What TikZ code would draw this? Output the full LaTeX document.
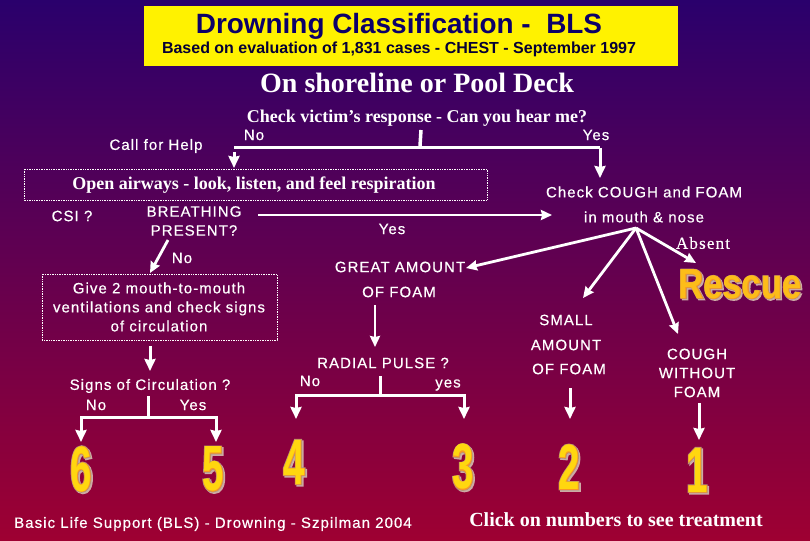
\documentclass[tikz,border=0pt]{standalone}
\usepackage{fontspec}
\setmainfont{Liberation Serif}
\setsansfont{Liberation Sans}
\newfontfamily\numfont[FakeStretch=0.6]{Liberation Sans Bold}
\newfontfamily\numfill[FakeStretch=0.6,FakeBold=1.5]{Liberation Sans Bold}
\newfontfamily\numedge[FakeStretch=0.6,FakeBold=3.5]{Liberation Sans Bold}
\newfontfamily\rescuefont[FakeStretch=0.82]{Liberation Sans Bold}
\newfontfamily\rescuefill[FakeStretch=0.82,FakeBold=1.5]{Liberation Sans Bold}
\newfontfamily\rescueedge[FakeStretch=0.82,FakeBold=3.5]{Liberation Sans Bold}
\newfontfamily\labelfont[LetterSpace=7,FakeBold=0.5]{Liberation Sans}
\newfontfamily\absentfont[LetterSpace=7,FakeBold=0.4]{Liberation Serif}
\usetikzlibrary{arrows.meta}
\definecolor{skytop}{RGB}{42,0,108}
\definecolor{skymid}{RGB}{108,0,84}
\definecolor{skylow}{RGB}{158,0,50}
\definecolor{titleblue}{RGB}{12,0,105}
\definecolor{numorange}{RGB}{248,150,40}
\definecolor{numyellow}{RGB}{255,215,15}
\definecolor{numshade}{RGB}{205,170,165}
\definecolor{numedgecol}{RGB}{170,150,125}
\tikzset{
	lbl/.style={text=white, font=\labelfont\fontsize{15}{17}\selectfont, inner sep=0pt, align=center},
	serif lbl/.style={text=white, font=\rmfamily\bfseries\fontsize{18}{20}\selectfont, inner sep=0pt},
	dotbox/.style={draw=white, densely dotted, line width=0.7pt},
	flowline/.style={draw=white, line width=3pt},
	flowarrow/.style={flowline, -{Stealth[length=12pt,width=11pt,inset=1pt]}},
	thinarrow/.style={draw=white, line width=2.8pt, -{Stealth[length=11pt,width=10pt,inset=1pt]}},
}
\begin{document}
\begin{tikzpicture}[x=1pt, y=-1pt, line cap=butt, line join=miter]
	\useasboundingbox (0,0) rectangle (810,540);
	\shade[top color=skytop, middle color=skymid, bottom color=skylow] (0,0) rectangle (810,540);
	% title block
	\fill[yellow] (144,6) rectangle (678,66);
	\node[text=titleblue, font=\sffamily\bfseries\fontsize{27.9}{30}\selectfont, inner sep=0pt] (title) at (399,26) {Drowning Classification -\ \ BLS};
	\node[text=titleblue!50!black, font=\sffamily\bfseries\fontsize{16}{18}\selectfont, inner sep=0pt] (subtitle) at (399,49) {Based on evaluation of 1,831 cases - CHEST - September 1997};
	\node[serif lbl, font=\rmfamily\bfseries\fontsize{28}{32}\selectfont] (shore) at (417,83) {On shoreline or Pool Deck};
	\node[serif lbl] (response) at (417,118) {Check victim’s response - Can you hear me?};
	% first row
	\node[lbl] (nohelp) at (254,135) {No};
	\node[lbl] (yesresp) at (596,135) {Yes};
	\node[lbl] (callhelp) at (156,146) {Call for Help};
	\draw[dotbox] (24,169) rectangle (487,200);
	\node[serif lbl] (airways) at (254,185) {Open airways - look, listen, and feel respiration};
	\node[lbl] (cough) at (644,192) {Check COUGH and FOAM};
	\node[lbl] (mouth) at (644,217) {in mouth \& nose};
	\node[text=white, font=\absentfont\fontsize{17}{20}\selectfont, inner sep=0pt] (absent) at (703,243) {Absent};
	\node[lbl] (csi) at (72,216) {CSI ?};
	\node[lbl] (breathing) at (194,221) {BREATHING\\[2pt]PRESENT?};
	\node[lbl] (yesbreath) at (392,229) {Yes};
	\node[lbl] (nobreath) at (182,258) {No};
	% left column
	\draw[dotbox] (42,274) rectangle (277,340);
	\node[lbl] (give) at (159,307) {Give 2 mouth-to-mouth\\[2pt]ventilations and check signs\\[2pt]of circulation};
	\node[lbl] (signs) at (150,386) {Signs of Circulation ?};
	\node[lbl] (nosigns) at (96,405) {No};
	\node[lbl] (yessigns) at (193,405) {Yes};
	% foam columns
	\node[lbl] (great) at (400,267) {GREAT AMOUNT};
	\node[lbl] (greatb) at (399,292) {OF FOAM};
	\node[lbl] (radial) at (383,363) {RADIAL PULSE ?};
	\node[lbl] (nopulse) at (310,381) {No};
	\node[lbl] (yespulse) at (448,385) {yes};
	\node[lbl] (small) at (566,320) {SMALL};
	\node[lbl] (amount) at (566,345) {AMOUNT};
	\node[lbl] (smallb) at (569,369) {OF FOAM};
	\node[lbl] (withoutfoam) at (697,373) {COUGH\\[2pt]WITHOUT\\[2pt]FOAM};
	\node[lbl] (footer) at (213,524) {Basic Life Support (BLS) - Drowning - Szpilman 2004};
	\node[serif lbl, font=\rmfamily\bfseries\fontsize{20}{22}\selectfont] (click) at (616,520) {Click on numbers to see treatment};
	% big numbers
	\foreach \num/\px/\py in {6/81/469, 5/213/469, 4/294/462, 3/463/467, 2/569/467, 1/697/470}{
		\node[text=numshade, font=\numedge\fontsize{64}{64}\selectfont, inner sep=0pt] at (\px+1.5,\py+1.5) {\num};
		\node[text=numedgecol, font=\numedge\fontsize{64}{64}\selectfont, inner sep=0pt] at (\px,\py) {\num};
		\node[text=numorange, font=\numfill\fontsize{64}{64}\selectfont, inner sep=0pt] at (\px,\py) {\num};
		\node[text=numyellow, font=\numfont\fontsize{64}{64}\selectfont, inner sep=0pt] (num\num) at (\px,\py) {\num};
	}
	% rescue
	\node[text=numshade, font=\rescueedge\fontsize{42}{42}\selectfont, inner sep=0pt] at (741.5,285.5) {Rescue};
	\node[text=numedgecol, font=\rescueedge\fontsize{42}{42}\selectfont, inner sep=0pt] at (740,284) {Rescue};
	\node[text=numorange, font=\rescuefill\fontsize{42}{42}\selectfont, inner sep=0pt] at (740,284) {Rescue};
	\node[text=numyellow!60!numorange, font=\rescuefont\fontsize{42}{42}\selectfont, inner sep=0pt] (rescue) at (740,284) {Rescue};
	% connectors
	\coordinate (turnL) at (234,148);
	\coordinate (turnR) at (600,148);
	\coordinate (tickT) at (421,130);
	\coordinate (tickB) at (420,146);
	\coordinate (helpS) at (234,152);
	\coordinate (helpE) at (234,168);
	\coordinate (coughN) at (600,178);
	\draw[flowline] (turnL) -- (turnR);
	\draw[flowline, line width=3.5pt] (tickT) -- (tickB);
	\draw[flowarrow] (helpS) -- (helpE);
	\draw[flowarrow] (turnR) -- (coughN);
	\coordinate (breathS) at (258,215);
	\coordinate (breathE) at (552,215);
	\draw[thinarrow] (breathS) -- (breathE);
	\coordinate (presentS) at (168,240);
	\coordinate (giveN) at (150,273);
	\draw[thinarrow] (presentS) -- (giveN);
	\coordinate (giveS) at (150,346);
	\coordinate (signsN) at (150,371);
	\draw[flowarrow] (giveS) -- (signsN);
	\coordinate (signsS) at (148,396);
	\coordinate (signsT) at (148,417.5);
	\coordinate (sixT) at (81,417.5);
	\coordinate (sixE) at (81,442);
	\coordinate (fiveT) at (216,417.5);
	\coordinate (fiveE) at (216,442);
	\draw[flowline] (signsS) -- (signsT);
	\draw[flowarrow] (signsT) -- (sixT) -- (sixE);
	\draw[flowarrow] (signsT) -- (fiveT) -- (fiveE);
	\coordinate (fan) at (636,228);
	\coordinate (greatE) at (466,268);
	\coordinate (smallE) at (583,298);
	\coordinate (absentE) at (696,263);
	\coordinate (noFoamE) at (678,334);
	\foreach \fanend in {greatE, smallE, absentE, noFoamE}
		\draw[thinarrow] (fan) -- (\fanend);
	\coordinate (foamS) at (375,305);
	\coordinate (radialN) at (375,347);
	\draw[thinarrow] (foamS) -- (radialN);
	\coordinate (radialS) at (380,376);
	\coordinate (radialT) at (380,395.5);
	\coordinate (fourT) at (296,395.5);
	\coordinate (fourE) at (296,419);
	\coordinate (threeT) at (464,395.5);
	\coordinate (threeE) at (464,419);
	\draw[flowline] (radialS) -- (radialT);
	\draw[flowarrow] (radialT) -- (fourT) -- (fourE);
	\draw[flowarrow] (radialT) -- (threeT) -- (threeE);
	\coordinate (twoS) at (570,388);
	\coordinate (twoE) at (570,419);
	\draw[flowarrow] (twoS) -- (twoE);
	\coordinate (oneS) at (699,403);
	\coordinate (oneE) at (699,440);
	\draw[flowarrow] (oneS) -- (oneE);
\end{tikzpicture}
\end{document}
